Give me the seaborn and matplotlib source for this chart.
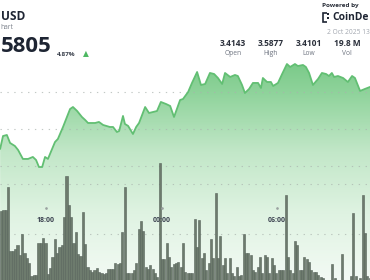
import numpy as np
import pandas as pd
import matplotlib
matplotlib.use("Agg")
import matplotlib.pyplot as plt
import matplotlib.transforms as mtransforms
from matplotlib.colors import LinearSegmentedColormap
from matplotlib.patches import Rectangle
import seaborn as sns

# ---------------- data ----------------
# minutes relative to 18:00 (1 Oct), XRP/USD price
price_minutes = [-143, -134, -122, -112, -97, -87, -72, -56, -41, -31, -22, -12, -3, 6, 28, 37,
                 53, 75, 84, 97, 112, 122, 131, 153, 165, 178, 199, 209, 221, 228, 240, 246,
                 256, 271, 281, 290, 309, 321, 334, 346, 358, 374, 387, 399, 418, 427, 443, 455,
                 471, 483, 496, 511, 524, 536, 549, 558, 574, 589, 598, 611, 620, 633, 645, 661,
                 670, 676, 689, 701, 708, 723, 736, 751, 761, 776, 785, 801, 810, 820, 832, 848,
                 860, 873, 882, 891, 898, 910, 926, 941, 954, 963, 979, 994, 1010]
price_values = [3.4730, 3.4905, 3.4919, 3.4811, 3.4770, 3.4716, 3.4595, 3.4595, 3.4622, 3.4581,
                3.4486, 3.4486, 3.4622, 3.4595, 3.4824, 3.4865, 3.5027, 3.5270, 3.5297, 3.5243,
                3.5162, 3.5122, 3.5081, 3.5081, 3.5095, 3.5054, 3.5027, 3.5027, 3.4959, 3.4973,
                3.5176, 3.5068, 3.5041, 3.4932, 3.5027, 3.5081, 3.5297, 3.5216, 3.5230, 3.5243,
                3.5365, 3.5338, 3.5311, 3.5162, 3.5392, 3.5405, 3.5500, 3.5622, 3.5770, 3.5595,
                3.5608, 3.5757, 3.5743, 3.5689, 3.5608, 3.5757, 3.5703, 3.5730, 3.5716, 3.5595,
                3.5486, 3.5541, 3.5622, 3.5622, 3.5554, 3.5689, 3.5635, 3.5635, 3.5581, 3.5622,
                3.5743, 3.5878, 3.5838, 3.5878, 3.5851, 3.5865, 3.5838, 3.5757, 3.5595, 3.5676,
                3.5757, 3.5743, 3.5716, 3.5757, 3.5703, 3.5716, 3.5689, 3.5635, 3.5716, 3.5689,
                3.5514, 3.5541, 3.5568]

# volume per bar (thousand XRP), consecutive bars
volume_k = [73, 74, 74, 97, 33, 33, 35, 39, 29, 50, 31, 26, 21, 8, 9, 9, 41, 41, 46, 41,
            10, 16, 27, 45, 31, 37, 39, 67, 108, 79, 67, 41, 52, 30, 28, 72, 40, 17, 14, 12,
            14, 16, 12, 11, 10, 11, 15, 15, 15, 21, 20, 21, 52, 97, 11, 11, 11, 14, 21, 55,
            63, 53, 17, 15, 19, 15, 11, 7, 121, 25, 25, 41, 27, 17, 20, 21, 22, 17, 41, 12,
            11, 11, 11, 65, 37, 64, 26, 31, 14, 21, 45, 26, 91, 26, 48, 19, 26, 11, 26, 11,
            8, 17, 8, 9, 50, 31, 31, 29, 14, 12, 17, 27, 11, 29, 27, 11, 26, 19, 11, 14,
            14, 14, 89, 27, 14, 11, 43, 39, 14, 14, 27, 25, 22, 14, 12, 12, 9, 7, 6, 4,
            4, 4, 20, 6, 4, 4, 30, 4, 4, 4, 8, 71, 8, 4, 6, 89, 51, 8, 6]
bar_first_minute = -139.7
bar_step_minutes = 7.27

time_ticks = [0, 360, 720]
time_labels = ["18:00", "00:00", "06:00"]
price_grid = [3.45, 3.50, 3.55]
volume_grid = [50, 100]

# header texts as visible in the (cropped) view
pair_label = "USD"
sub_label = "hart"
last_price = "5805"
change_pct = "4.87%"
stat_values = ["3.4143", "3.5877", "3.4101", "19.8 M"]
stat_labels = ["Open", "High", "Low", "Vol"]
brand_label = "CoinDe"
date_label = "2 Oct 2025 13"

# ---------------- figure ----------------
W, H = 370, 280
sns.set_theme(style="white")
plt.rcParams['font.family'] = ['Open Sans', 'DejaVu Sans']

fig = plt.figure(figsize=(W / 100, H / 100), dpi=100)
fig.patch.set_facecolor("white")

xlo, xhi = -143.4, 1009.9
plo, phi = 3.2959, 3.6743

ax = fig.add_axes([0, 0, 1, 1])
ax.set_xlim(xlo, xhi)
ax.set_ylim(plo, phi)
ax.axis("off")

# gradient area under the price line
fill = ax.fill_between(price_minutes, price_values, plo, facecolor="none", edgecolor="none")
cmap = LinearSegmentedColormap.from_list(
    "g", [(0.0, "#78c987"), (0.15, "#8fd39b"), (0.42, "#c2e7c8"), (0.7, "#dff3e2"), (1.0, "#f3faf4")])
grad = np.linspace(0, 1, 256).reshape(-1, 1)
ptop = 3.55 + (92 - 60) / 740
im = ax.imshow(grad, aspect="auto", cmap=cmap, extent=[xlo, xhi, plo, ptop],
               origin="upper", zorder=1, interpolation="bilinear")
im.set_clip_path(fill.get_paths()[0], ax.transData)
ax.set_xlim(xlo, xhi)
ax.set_ylim(plo, phi)

for g in price_grid:
    ax.axhline(g, color="#a9b2ad", alpha=0.7, linewidth=0.8, linestyle=(0, (1.2, 5)), zorder=2)

df_price = pd.DataFrame({"minute": price_minutes, "price": price_values})
sns.lineplot(data=df_price, x="minute", y="price", ax=ax, color="#62bf73",
             linewidth=1.3, zorder=3, legend=False)
ax.set_xlim(xlo, xhi)
ax.set_ylim(plo, phi)

# volume bars
ax2 = ax.twinx()
ax2.patch.set_alpha(0)
bar_minutes = [bar_first_minute + i * bar_step_minutes for i in range(len(volume_k))]
df_vol = pd.DataFrame({"minute": bar_minutes, "vol": volume_k})
for g in volume_grid:
    ax2.axhline(g, color="#a9b2ad", alpha=0.7, linewidth=0.8, linestyle=(0, (1.2, 5)), zorder=0)
sns.barplot(data=df_vol, x="minute", y="vol", ax=ax2, native_scale=True, color="#6d7b6d",
            saturation=1, width=0.88, edgecolor="#56625a", linewidth=0.4, zorder=2)
ax2.set_xlim(xlo, xhi)
ax2.set_ylim(4, 284)
ax2.axis("off")

# time labels
trans = mtransforms.blended_transform_factory(ax2.transData, ax2.transAxes)
for t, lab in zip(time_ticks, time_labels):
    ax2.text(t, 1 - 220 / H, lab, transform=trans, ha="center", va="center",
             fontsize=5, fontweight="bold", color="#3b4250", zorder=5)
    ax2.plot([t], [1 - 208 / H], transform=trans, marker="o", markersize=0.9,
             color="#9aa2a0", zorder=5)

# ---------------- header texts ----------------
def fx(x):
    return x / W

def fy(y):
    return 1 - y / H

dark = "#1e2533"
fig.text(fx(0.5), fy(16), pair_label, ha="left", va="center", fontsize=8.6,
         fontweight="bold", color=dark)
fig.text(fx(0.5), fy(27.5), sub_label, ha="left", va="center", fontsize=4.8, color="#7a808a")
fig.text(fx(0.5), fy(47), last_price, ha="left", va="center", fontsize=16,
         fontweight="bold", color=dark)
fig.text(fx(57), fy(54.5), change_pct, ha="left", va="center", fontsize=4.6,
         fontweight="bold", color="#3a404c")
fig.text(fx(85.5), fy(53.5), "\u25b2", ha="center", va="center", fontsize=5.5,
         color="#4db862", family=["DejaVu Sans"])

fig.text(fx(322), fy(6), "Powered by", ha="left", va="center", fontsize=4.6,
         fontweight="bold", color="#2a2f3a")
# CoinDesk mark
fig.patches.append(Rectangle((fx(322.5), fy(22)), 8 / W, 9 / H, transform=fig.transFigure,
                             fill=False, edgecolor=dark, linewidth=1.2))
fig.patches.append(Rectangle((fx(326.5), fy(23)), 5 / W, 11 / H, transform=fig.transFigure,
                             facecolor="white", edgecolor="none"))
fig.patches.append(Rectangle((fx(327), fy(19)), 2 / W, 2 / H, transform=fig.transFigure,
                             facecolor=dark, edgecolor="none"))
fig.patches.append(Rectangle((fx(327), fy(15)), 2 / W, 2 / H, transform=fig.transFigure,
                             facecolor=dark, edgecolor="none"))
fig.text(fx(332.5), fy(17.5), brand_label, ha="left", va="center", fontsize=7.4,
         fontweight="bold", color=dark)
fig.text(fx(327), fy(32.5), date_label, ha="left", va="center", fontsize=4.8, color="#a3a8b0")

for cx, v, lab in zip([233, 271, 309, 347], stat_values, stat_labels):
    fig.text(fx(cx), fy(43.5), v, ha="center", va="center", fontsize=6,
             fontweight="bold", color="#2a2f3a")
    fig.text(fx(cx), fy(53.5), lab, ha="center", va="center", fontsize=4.8, color="#6e7480")

fig.savefig("out.png", dpi=100)
